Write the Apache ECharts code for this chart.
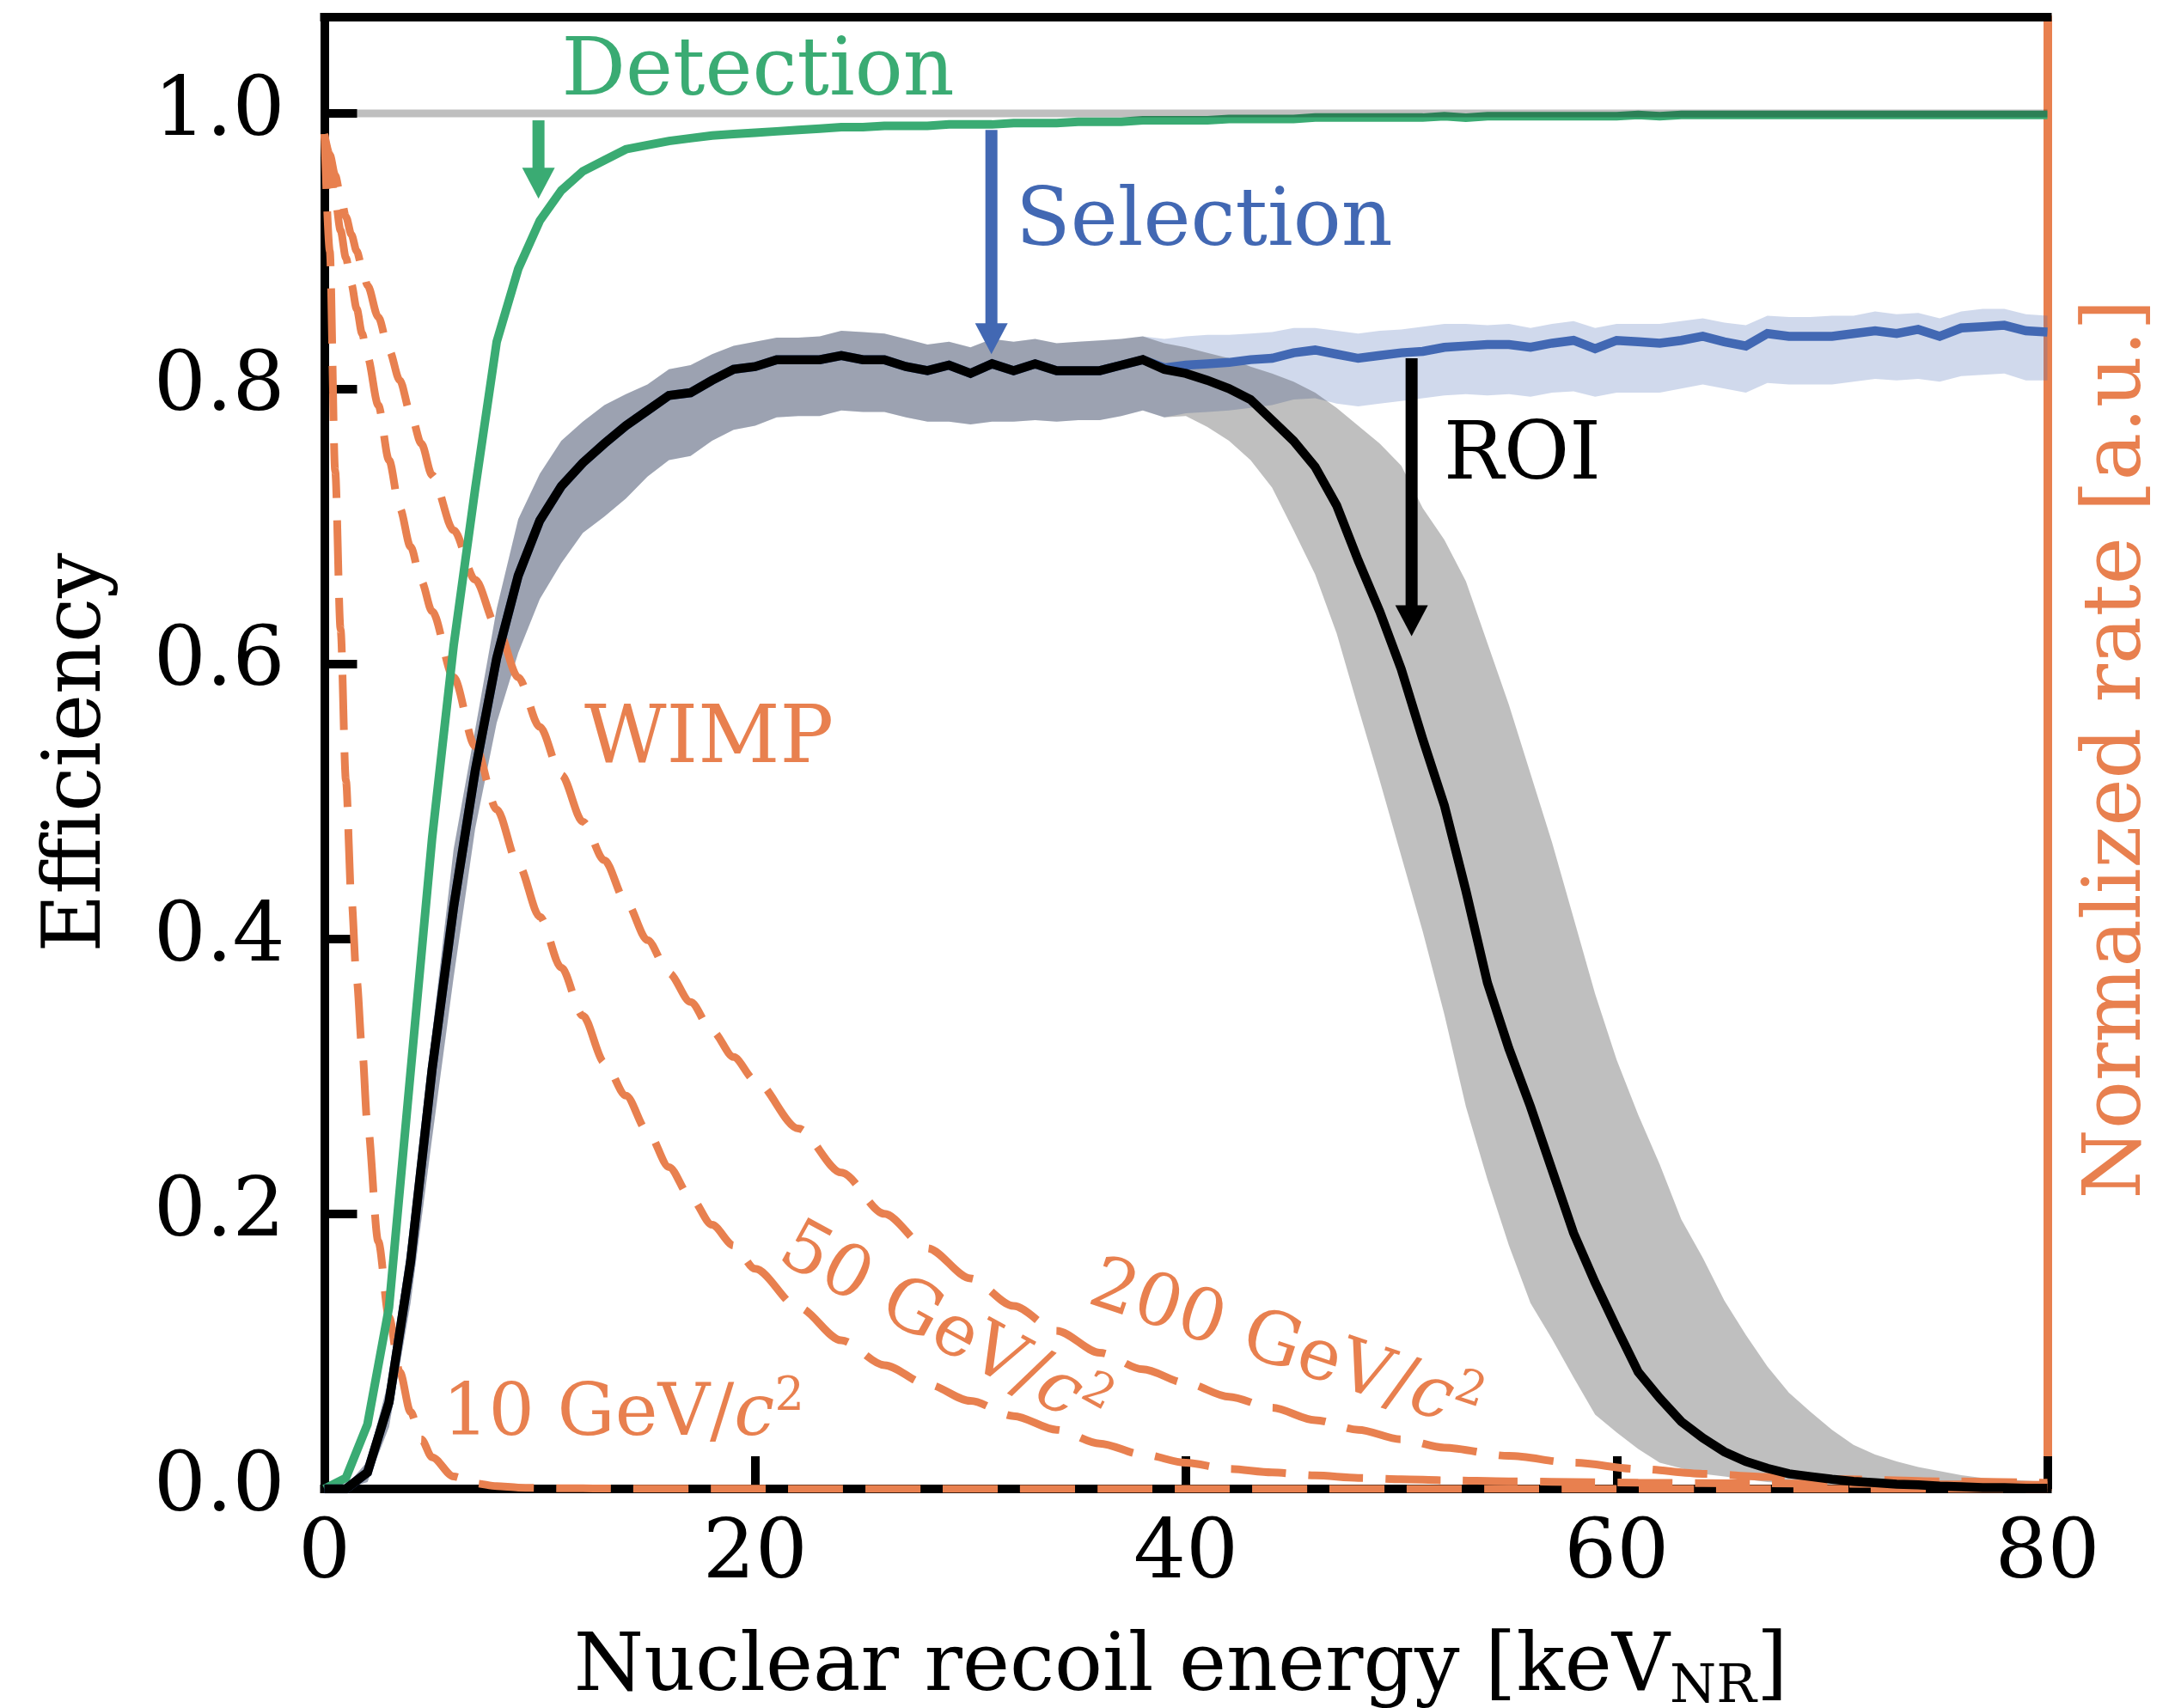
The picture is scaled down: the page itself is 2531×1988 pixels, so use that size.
<!DOCTYPE html>
<html>
<head>
<meta charset="utf-8">
<script src="https://cdn.jsdelivr.net/npm/echarts@6/dist/echarts.min.js"></script>
<style>
  html, body { margin: 0; padding: 0; background: #fff; }
  #chart { width: 2531px; height: 1988px; }
</style>
</head>
<body>
<div id="chart"></div>
<script>
// ---- data ----
const energy = [
  0, 1, 2, 3, 4, 5, 6, 7, 8, 9, 10, 11, 12, 13, 14, 15, 16, 17, 18, 19,
  20, 21, 22, 23, 24, 25, 26, 27, 28, 29, 30, 31, 32, 33, 34, 35, 36, 37, 38, 39,
  40, 41, 42, 43, 44, 45, 46, 47, 48, 49, 50, 51, 52, 53, 54, 55, 56, 57, 58, 59,
  60, 61, 62, 63, 64, 65, 66, 67, 68, 69, 70, 71, 72, 73, 74, 75, 76, 77, 78, 79, 80
];

const detection = [
  0.000, 0.008, 0.047, 0.132, 0.303, 0.473, 0.613, 0.727, 0.834, 0.887,
  0.922, 0.944, 0.958, 0.966, 0.974, 0.977, 0.980, 0.982, 0.984, 0.985,
  0.986, 0.987, 0.988, 0.989, 0.990, 0.990, 0.991, 0.991, 0.991, 0.992,
  0.992, 0.992, 0.993, 0.993, 0.993, 0.994, 0.994, 0.994, 0.995, 0.995,
  0.995, 0.995, 0.996, 0.996, 0.996, 0.996, 0.997, 0.997, 0.997, 0.997,
  0.997, 0.997, 0.998, 0.997, 0.998, 0.998, 0.998, 0.998, 0.998, 0.998,
  0.998, 0.999, 0.998, 0.999, 0.999, 0.999, 0.999, 0.999, 0.999, 0.999,
  0.999, 0.999, 0.999, 0.999, 0.999, 0.999, 0.999, 0.999, 0.999, 0.999,
  0.999
];

const selection = [
  0.000, 0.000, 0.012, 0.063, 0.165, 0.305, 0.423, 0.522, 0.604, 0.664,
  0.704, 0.729, 0.746, 0.760, 0.773, 0.784, 0.795, 0.797, 0.806, 0.814,
  0.816, 0.821, 0.821, 0.821, 0.824, 0.821, 0.821, 0.816, 0.813, 0.817,
  0.811, 0.818, 0.813, 0.818, 0.813, 0.813, 0.813, 0.817, 0.821, 0.815,
  0.817, 0.818, 0.819, 0.821, 0.822, 0.826, 0.828, 0.825, 0.822, 0.824,
  0.826, 0.827, 0.830, 0.831, 0.832, 0.832, 0.830, 0.833, 0.835, 0.829,
  0.835, 0.834, 0.833, 0.835, 0.838, 0.834, 0.831, 0.840, 0.838, 0.838,
  0.838, 0.840, 0.842, 0.840, 0.843, 0.838, 0.844, 0.845, 0.846, 0.842,
  0.841
];
const selectionLow = [
  0.000, 0.000, 0.005, 0.045, 0.135, 0.255, 0.372, 0.480, 0.557, 0.608,
  0.647, 0.673, 0.695, 0.707, 0.720, 0.736, 0.748, 0.751, 0.762, 0.770,
  0.773, 0.779, 0.780, 0.780, 0.784, 0.783, 0.783, 0.779, 0.776, 0.776,
  0.774, 0.776, 0.776, 0.777, 0.776, 0.777, 0.777, 0.780, 0.784, 0.779,
  0.782, 0.783, 0.784, 0.786, 0.788, 0.792, 0.793, 0.789, 0.787, 0.789,
  0.791, 0.793, 0.795, 0.796, 0.795, 0.796, 0.794, 0.797, 0.798, 0.794,
  0.797, 0.797, 0.797, 0.800, 0.803, 0.800, 0.797, 0.804, 0.803, 0.803,
  0.803, 0.805, 0.807, 0.806, 0.807, 0.805, 0.809, 0.810, 0.811, 0.806,
  0.806
];
const selectionHigh = [
  0.000, 0.002, 0.020, 0.080, 0.190, 0.330, 0.465, 0.552, 0.640, 0.705,
  0.738, 0.762, 0.776, 0.788, 0.796, 0.803, 0.814, 0.817, 0.825, 0.831,
  0.834, 0.837, 0.837, 0.838, 0.842, 0.841, 0.840, 0.836, 0.832, 0.834,
  0.830, 0.836, 0.834, 0.836, 0.833, 0.834, 0.835, 0.836, 0.838, 0.836,
  0.838, 0.839, 0.839, 0.840, 0.841, 0.844, 0.844, 0.842, 0.840, 0.842,
  0.843, 0.845, 0.847, 0.847, 0.846, 0.847, 0.844, 0.847, 0.849, 0.844,
  0.847, 0.847, 0.847, 0.849, 0.851, 0.848, 0.846, 0.853, 0.852, 0.852,
  0.853, 0.853, 0.856, 0.854, 0.855, 0.851, 0.856, 0.858, 0.858, 0.854,
  0.853
];

const roi = [
  0.000, 0.000, 0.012, 0.063, 0.165, 0.305, 0.423, 0.522, 0.604, 0.664,
  0.704, 0.729, 0.746, 0.760, 0.773, 0.784, 0.795, 0.797, 0.806, 0.814,
  0.816, 0.821, 0.821, 0.821, 0.824, 0.821, 0.821, 0.816, 0.813, 0.817,
  0.811, 0.818, 0.813, 0.818, 0.813, 0.813, 0.813, 0.817, 0.821, 0.814,
  0.811, 0.806, 0.800, 0.792, 0.777, 0.762, 0.743, 0.715, 0.675, 0.638,
  0.596, 0.545, 0.497, 0.435, 0.368, 0.320, 0.278, 0.232, 0.186, 0.150,
  0.117, 0.085, 0.066, 0.049, 0.037, 0.027, 0.020, 0.015, 0.011, 0.009,
  0.007, 0.0055, 0.0045, 0.0035, 0.003, 0.002, 0.0015, 0.001, 0.001, 0.0005,
  0.0005
];
const roiLow = [
  0.000, 0.000, 0.005, 0.045, 0.135, 0.255, 0.372, 0.480, 0.557, 0.608,
  0.647, 0.673, 0.695, 0.707, 0.720, 0.736, 0.748, 0.751, 0.762, 0.770,
  0.773, 0.779, 0.780, 0.780, 0.784, 0.783, 0.783, 0.779, 0.776, 0.776,
  0.774, 0.776, 0.776, 0.777, 0.776, 0.777, 0.777, 0.780, 0.784, 0.779,
  0.780, 0.772, 0.762, 0.748, 0.728, 0.697, 0.665, 0.622, 0.568, 0.515,
  0.460, 0.405, 0.345, 0.278, 0.225, 0.177, 0.135, 0.109, 0.081, 0.054,
  0.041, 0.029, 0.019, 0.015, 0.011, 0.009, 0.007, 0.005, 0.004, 0.003,
  0.002, 0.0015, 0.001, 0.001, 0.0005, 0.0005, 0, 0, 0, 0,
  0
];
const roiHigh = [
  0.000, 0.002, 0.020, 0.080, 0.190, 0.330, 0.465, 0.552, 0.640, 0.705,
  0.738, 0.762, 0.776, 0.788, 0.796, 0.803, 0.814, 0.817, 0.825, 0.831,
  0.834, 0.837, 0.837, 0.838, 0.842, 0.841, 0.840, 0.836, 0.832, 0.834,
  0.830, 0.836, 0.834, 0.836, 0.833, 0.834, 0.835, 0.836, 0.838, 0.833,
  0.830, 0.826, 0.822, 0.816, 0.811, 0.805, 0.797, 0.786, 0.773, 0.760,
  0.744, 0.713, 0.690, 0.660, 0.615, 0.570, 0.520, 0.470, 0.415, 0.360,
  0.312, 0.272, 0.236, 0.196, 0.168, 0.137, 0.112, 0.089, 0.070, 0.056,
  0.043, 0.032, 0.025, 0.020, 0.016, 0.013, 0.010, 0.008, 0.007, 0.006,
  0.005
];

// WIMP recoil spectra (normalized rate)
const wimpEnergy = [
  0, 0.25, 0.5, 0.75, 1, 1.25, 1.5, 1.75, 2, 2.5, 3, 3.5, 4, 4.5, 5,
  6, 7, 8, 9, 10, 11, 12, 13, 14, 15, 16, 17, 18, 19, 20,
  22, 24, 26, 28, 30, 32, 34, 36, 38, 40, 42, 44, 46, 48, 50, 52,
  55, 58, 61, 64, 67, 70, 75, 80
];
const wimp10 = [
  0.985, 0.900, 0.740, 0.625, 0.515, 0.430, 0.370, 0.320, 0.265, 0.180, 0.125, 0.085, 0.056, 0.036, 0.023,
  0.009, 0.004, 0.002, 0.001, 0.0007, 0.0005, 0.0004, 0.0003, 0.0002, 0.0002, 0.0001, 0.0001, 0.0001, 0.0001, 0.0001,
  0, 0, 0, 0, 0, 0, 0, 0, 0, 0, 0, 0, 0, 0, 0, 0,
  0, 0, 0, 0, 0, 0, 0, 0
];
const wimp50 = [
  0.985, 0.962, 0.938, 0.915, 0.895, 0.876, 0.858, 0.840, 0.823, 0.788, 0.748, 0.713, 0.685, 0.660, 0.638,
  0.590, 0.540, 0.494, 0.454, 0.416, 0.379, 0.344, 0.310, 0.286, 0.260, 0.234, 0.212, 0.192, 0.177, 0.160,
  0.132, 0.108, 0.090, 0.076, 0.064, 0.053, 0.043, 0.033, 0.025, 0.019, 0.0145, 0.012, 0.0098, 0.008, 0.007, 0.0063,
  0.0055, 0.005, 0.0045, 0.0042, 0.004, 0.0038, 0.0033, 0.003
];
const wimp200 = [
  0.985, 0.970, 0.955, 0.940, 0.925, 0.912, 0.900, 0.888, 0.875, 0.852, 0.828, 0.806, 0.782, 0.760, 0.737,
  0.697, 0.661, 0.627, 0.590, 0.554, 0.519, 0.485, 0.457, 0.427, 0.399, 0.375, 0.354, 0.333, 0.314, 0.297,
  0.262, 0.230, 0.200, 0.175, 0.153, 0.133, 0.115, 0.099, 0.087, 0.077, 0.067, 0.059, 0.050, 0.043, 0.036, 0.030,
  0.024, 0.019, 0.0145, 0.011, 0.0088, 0.0072, 0.0055, 0.0045
];
const wimpMasses = [10, 50, 200];

const unityX = [0, 80];
const unityY = [1, 1];

// annotation arrows: x position, start and tip efficiency
const arrowX = [9.94, 30.97, 50.48];
const arrowFrom = [0.995, 0.988, 0.822];
const arrowTo = [0.938, 0.825, 0.620];

const xTicks = [0, 20, 40, 60, 80];
const yTicks = [0.0, 0.2, 0.4, 0.6, 0.8, 1.0];

// ---- styling ----
const FONT = 'DejaVu Serif';
const GREEN = '#3aab73';
const BLUE = '#4268b3';
const ORANGE = '#e8804f';
const SPINE = 10;

function pairs(xs, ys) {
  return xs.map((x, i) => [x, ys[i]]);
}

function line(xs, ys, color, width, extra) {
  return Object.assign({
    type: 'line',
    data: pairs(xs, ys),
    symbol: 'none',
    showSymbol: false,
    silent: true,
    animation: false,
    lineStyle: { color: color, width: width, cap: 'butt', join: 'miter' }
  }, extra || {});
}

// shaded uncertainty band: one polygon through the upper edge and back along the lower edge
function band(xs, lo, hi, fill) {
  return {
    type: 'custom',
    silent: true,
    animation: false,
    clip: true,
    data: xs.map((x, i) => [x, lo[i], hi[i]]),
    renderItem: function (params, api) {
      if (params.dataIndex !== 0) return null;
      const upper = xs.map((x, i) => api.coord([x, hi[i]]));
      const lower = xs.map((x, i) => api.coord([x, lo[i]])).reverse();
      return { type: 'polygon', shape: { points: upper.concat(lower) }, style: { fill: fill } };
    }
  };
}

function arrow(i, color) {
  return {
    type: 'custom',
    silent: true,
    animation: false,
    z: 6,
    data: [[arrowX[i], arrowFrom[i], arrowTo[i]]],
    renderItem: function (params, api) {
      const a = api.coord([api.value(0), api.value(1)]);
      const b = api.coord([api.value(0), api.value(2)]);
      const headLen = 36, headW = 38, shaft = 14;
      return {
        type: 'group',
        children: [
          { type: 'rect', shape: { x: a[0] - shaft / 2, y: a[1], width: shaft, height: b[1] - headLen - a[1] + 2 },
            style: { fill: color } },
          { type: 'polygon', shape: { points: [[b[0] - headW / 2, b[1] - headLen], [b[0] + headW / 2, b[1] - headLen], [b[0], b[1]]] },
            style: { fill: color } }
        ]
      };
    }
  };
}

function wimpLine(ys) {
  return {
    type: 'line',
    data: pairs(wimpEnergy, ys),
    symbol: 'none',
    showSymbol: false,
    silent: true,
    animation: false,
    smooth: 0.3,
    smoothMonotone: 'x',
    lineStyle: { color: ORANGE, width: 9, type: [64, 26], cap: 'butt' }
  };
}

function massLabel(mass, x, y, rot, align) {
  const main = { fontSize: 84, fontFamily: FONT, fill: ORANGE, lineHeight: 90, verticalAlign: 'bottom' };
  return {
    type: 'text', x: x, y: y, rotation: rot, z: 20,
    style: {
      text: '{n|' + mass + ' GeV/}{i|c}{s|2}',
      align: align, verticalAlign: 'middle',
      rich: {
        n: main,
        i: Object.assign({}, main, { fontStyle: 'italic' }),
        s: { fontSize: 54, fontFamily: FONT, fill: ORANGE, lineHeight: 54, verticalAlign: 'top' }
      }
    }
  };
}

function plainText(text, x, y, color, size, align, rot) {
  return {
    type: 'text', x: x, y: y, rotation: rot || 0, z: 20,
    style: { text: text, fill: color, fontSize: size, fontFamily: FONT, align: align, verticalAlign: 'middle' }
  };
}

const chart = echarts.init(document.getElementById('chart'), null, { renderer: 'canvas' });

const option = {
  backgroundColor: '#fff',
  animation: false,
  grid: { left: 377.5, right: 148.5, top: 20, bottom: 255, containLabel: false, outerBoundsMode: 'none' },
  xAxis: [
    {
      type: 'value', min: xTicks[0], max: xTicks[xTicks.length - 1], interval: 20, position: 'bottom',
      axisLine: { show: true, onZero: false, lineStyle: { color: '#000', width: SPINE, cap: 'square' } },
      axisTick: { show: true, inside: true, length: 38, lineStyle: { color: '#000', width: SPINE } },
      axisLabel: { show: true, color: '#000', fontSize: 96, fontFamily: FONT, margin: 30 },
      splitLine: { show: false }
    },
    {
      type: 'value', min: 0, max: 80, position: 'top',
      axisLine: { show: true, onZero: false, lineStyle: { color: '#000', width: SPINE, cap: 'square' } },
      axisTick: { show: false }, axisLabel: { show: false }, splitLine: { show: false }
    }
  ],
  yAxis: [
    {
      type: 'value', min: 0, max: 1.07, interval: 0.2, position: 'left',
      axisLine: { show: true, onZero: false, lineStyle: { color: '#000', width: SPINE, cap: 'square' } },
      axisTick: { show: true, inside: true, length: 38, lineStyle: { color: '#000', width: SPINE } },
      axisLabel: {
        show: true, color: '#000', fontSize: 96, fontFamily: FONT, margin: 46, showMaxLabel: false,
        formatter: function (v) {
          const hit = yTicks.find(t => Math.abs(t - v) < 1e-6);
          return hit === undefined ? '' : hit.toFixed(1);
        }
      },
      splitLine: { show: false }
    },
    {
      type: 'value', min: 0, max: 1.07, position: 'right',
      axisLine: { show: true, onZero: false, lineStyle: { color: ORANGE, width: SPINE } },
      axisTick: { show: false }, axisLabel: { show: false }, splitLine: { show: false }
    }
  ],
  series: [
    wimpLine(wimp10),
    wimpLine(wimp50),
    wimpLine(wimp200),
    band(energy, selectionLow, selectionHigh, 'rgba(66,104,179,0.25)'),
    band(energy, roiLow, roiHigh, 'rgba(0,0,0,0.25)'),
    line(energy, detection, GREEN, 10),
    line(energy, selection, BLUE, 10.5),
    line(energy, roi, '#000', 10.5),
    line(unityX, unityY, 'rgba(0,0,0,0.25)', 9),
    arrow(0, GREEN),
    arrow(1, BLUE),
    arrow(2, '#000')
  ],
  graphic: [
    plainText('Detection', 882, 86, GREEN, 93, 'center'),
    plainText('Selection', 1182, 261, BLUE, 93, 'left'),
    plainText('ROI', 1680, 533, '#000', 93, 'left'),
    plainText('WIMP', 680, 863, ORANGE, 93, 'left'),
    massLabel(wimpMasses[0], 515, 1645, 0, 'left'),
    massLabel(wimpMasses[1], 1099, 1545, -0.499, 'center'),
    massLabel(wimpMasses[2], 1496, 1567, -0.321, 'center'),
    plainText('Efficiency', 92, 876, '#000', 93, 'center', Math.PI / 2),
    plainText('Normalized rate [a.u.]', 2466, 872, ORANGE, 93, 'center', Math.PI / 2),
    {
      type: 'text', x: 1374, y: 1946, z: 20,
      style: {
        text: '{m|Nuclear recoil energy [keV}{s|NR}{m|]}',
        align: 'center', verticalAlign: 'middle',
        rich: {
          m: { fontSize: 93, fontFamily: FONT, fill: '#000', lineHeight: 100, verticalAlign: 'top' },
          s: { fontSize: 62, fontFamily: FONT, fill: '#000', lineHeight: 62, padding: [42, 0, 0, 0], verticalAlign: 'bottom' }
        }
      }
    }
  ]
};

chart.setOption(option);
</script>
</body>
</html>
